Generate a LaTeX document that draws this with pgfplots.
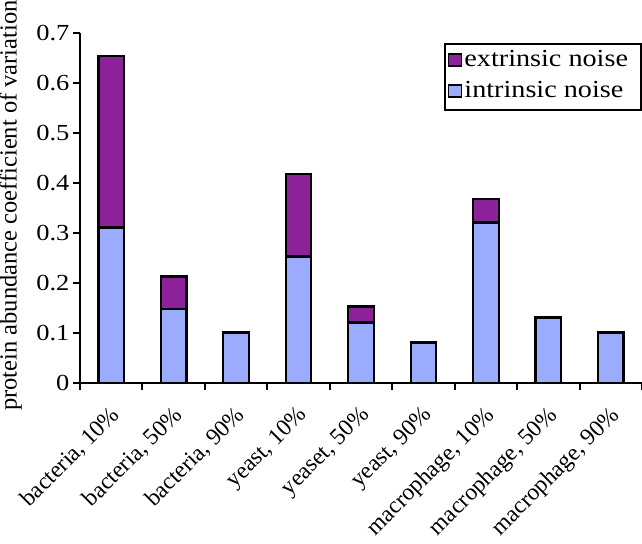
\documentclass[border=0pt]{standalone}
\usepackage{fontspec}
\setmainfont{Liberation Serif}
\newfontfamily\wide{Liberation Serif}[FakeStretch=1.15]
\usepackage{pgfplots}
\pgfplotsset{compat=1.18}
\definecolor{extr}{HTML}{8D219A}
\definecolor{intr}{HTML}{9BABFD}
\newcommand{\tk}{\wide\fontsize{23}{27}\selectfont}
\newcommand{\legfont}{\wide\fontsize{24.5}{28}\selectfont}
\newcommand{\xl}{\fontsize{23.5}{27}\selectfont}

\begin{document}
\begin{tikzpicture}
\begin{axis}[
  name=ax,
  width=562pt, height=350pt, scale only axis,
  xmin=-0.5, xmax=8.5, ymin=0, ymax=0.7,
  ybar stacked, bar width=25.6pt,
  axis lines*=left,
  axis line style={line width=2pt},
  tick align=outside,
  major tick length=7pt, minor tick length=7pt,
  every tick/.style={black, line width=2pt},
  ytick={0,0.1,0.2,0.3,0.4,0.5,0.6,0.7},
  yticklabel style={font=\tk, /pgf/number format/fixed, /pgf/number format/precision=1, /pgf/number format/assume math mode=true},
  xtick={0,1,2,3,4,5,6,7,8},
  major x tick style={draw=none},
  minor xtick={-0.5,0.5,1.5,2.5,3.5,4.5,5.5,6.5,7.5,8.5},
  xticklabels={{bacteria, 10\%},{bacteria, 50\%},{bacteria, 90\%},{yeast, 10\%},{yeaset, 50\%},{yeast, 90\%},{macrophage, 10\%},{macrophage, 50\%},{macrophage, 90\%}},
  x tick label style={font=\xl, xshift=-2pt, yshift=-13pt, rotate=45, anchor=north east, inner sep=1pt},
  ylabel={protein abundance coefficient of variation},
  ylabel style={font=\fontsize{24.5}{28}\selectfont, at={(axis description cs:-0.1032,0.507)}, anchor=south, inner sep=0pt},
  legend style={at={(1,1)}, anchor=north east, yshift=-9.7pt, draw=black, line width=2pt, font=\legfont,
    row sep=6pt, inner ysep=5pt, inner xsep=3pt,
    nodes={text height=16pt, text depth=5pt}},
  legend cell align=left,
  reverse legend,
  legend image code/.code={\draw[#1, line width=1.5pt] (0pt,-5pt) rectangle (13pt,7pt);},
]
\addplot[fill=intr, draw=black, line width=2.2pt] coordinates {
  (0,0.311) (1,0.148) (2,0.101) (3,0.253) (4,0.121) (5,0.081) (6,0.321) (7,0.131) (8,0.101)};
\addplot[fill=extr, draw=black, line width=2.2pt] coordinates {
  (0,0.343) (1,0.065) (2,0) (3,0.165) (4,0.032) (5,0) (6,0.047) (7,0) (8,0)};
\legend{intrinsic noise, extrinsic noise\hspace*{8pt}}
\end{axis}
\pgfresetboundingbox
\path ([xshift=-80pt,yshift=-160pt]ax.south west) rectangle ([yshift=33pt]ax.north east);
\end{tikzpicture}
\end{document}
